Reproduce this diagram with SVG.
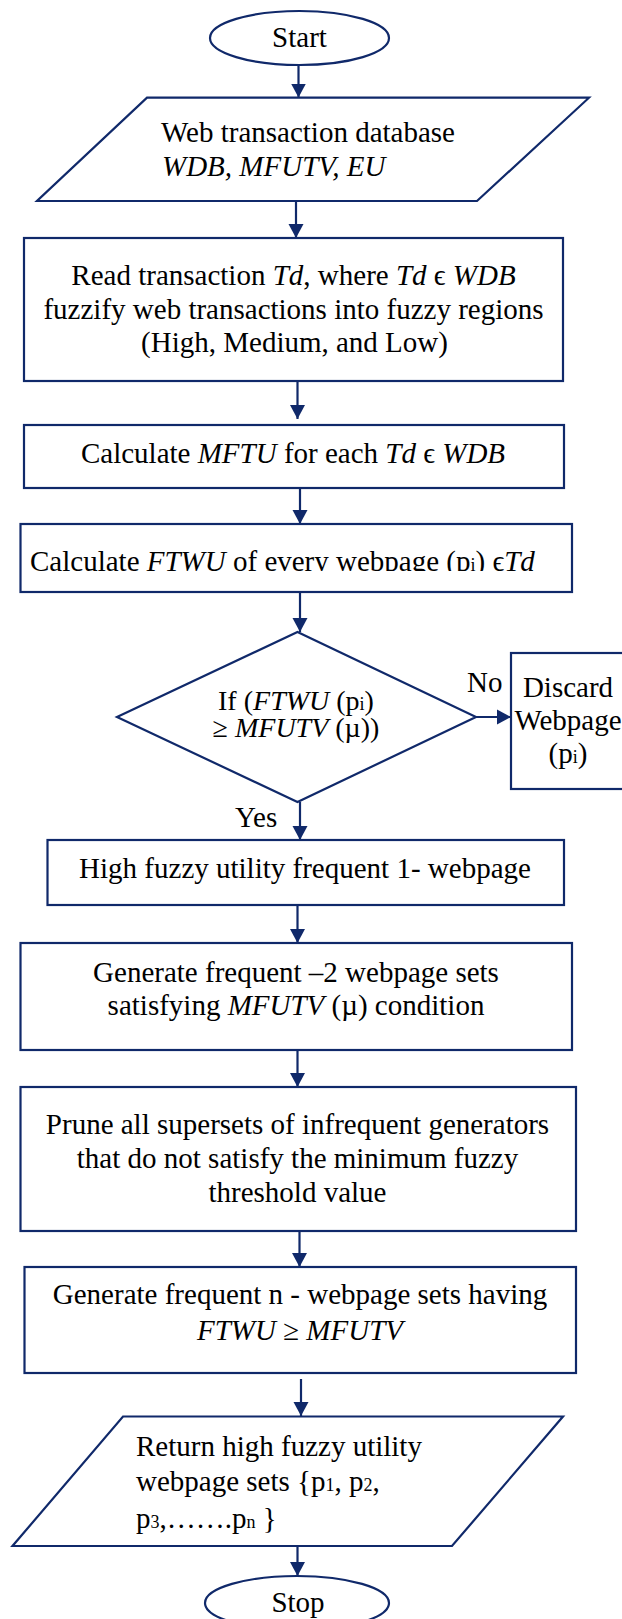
<svg xmlns="http://www.w3.org/2000/svg" width="622" height="1619" viewBox="0 0 622 1619">
<style>
.s{fill:#ffffff;stroke:#10296a;stroke-width:2.2}
.t{font-family:"Liberation Serif","Times New Roman",serif;font-size:29px;fill:#000}
.d{font-size:28px}
.m{text-anchor:middle}
.i{font-style:italic}
.sub{font-size:18px}
.c{stroke:#10296a;stroke-width:2.2;fill:none;marker-end:url(#ah)}
</style>
<defs>
<marker id="ah" markerUnits="userSpaceOnUse" markerWidth="15" markerHeight="16" refX="14" refY="8" orient="auto">
<path d="M0,0.5 L14,8 L0,15.5 z" fill="#10296a"/>
</marker>
<clipPath id="clipFtwu"><rect x="20" y="524" width="552" height="47"/></clipPath>
</defs>
<g id="connectors">
<line class="c" x1="298.5" y1="65" x2="298.5" y2="97.5"/>
<line class="c" x1="296" y1="201" x2="296" y2="238"/>
<line class="c" x1="297.5" y1="381" x2="297.5" y2="419"/>
<line class="c" x1="300" y1="488" x2="300" y2="524"/>
<line class="c" x1="300" y1="592" x2="300" y2="632"/>
<line class="c" x1="476" y1="717" x2="511" y2="717"/>
<line class="c" x1="300" y1="802" x2="300" y2="840"/>
<line class="c" x1="297.5" y1="905" x2="297.5" y2="943"/>
<line class="c" x1="297.5" y1="1050" x2="297.5" y2="1087"/>
<line class="c" x1="299.5" y1="1231" x2="299.5" y2="1267"/>
<line class="c" x1="301" y1="1379" x2="301" y2="1416"/>
<line class="c" x1="297.5" y1="1546" x2="297.5" y2="1576"/>
</g>
<g id="start">
<ellipse class="s" cx="299.5" cy="38" rx="89.5" ry="27"/>
<text class="t m" x="299.5" y="47">Start</text>
</g>
<g id="input">
<polygon class="s" points="147,97.7 589,97.7 477,201 37,201"/>
<text class="t" x="161" y="142">Web transaction database</text>
<text class="t i" x="162" y="176">WDB, MFUTV, EU</text>
</g>
<g id="read">
<rect class="s" x="24" y="238" width="539" height="143"/>
<text class="t m" x="293.5" y="285">Read transaction <tspan class="i">Td</tspan>, where <tspan class="i">Td</tspan> ϵ <tspan class="i">WDB</tspan></text>
<text class="t m" x="293.5" y="318.5">fuzzify web transactions into fuzzy regions</text>
<text class="t m" x="294.5" y="352">(High, Medium, and Low)</text>
</g>
<g id="mftu">
<rect class="s" x="24" y="425" width="540" height="63"/>
<text class="t m" x="293" y="463">Calculate <tspan class="i">MFTU</tspan> for each <tspan class="i">Td</tspan> ϵ <tspan class="i">WDB</tspan></text>
</g>
<g id="ftwu">
<rect class="s" x="20.5" y="524" width="551.5" height="68"/>
<text class="t" x="30" y="571" clip-path="url(#clipFtwu)">Calculate <tspan class="i">FTWU</tspan> of every webpage (p<tspan class="sub">i</tspan>) ϵ<tspan class="i">Td</tspan></text>
</g>
<g id="decision">
<polygon class="s" points="297.5,632 476,717 297.5,802 117,717"/>
<text class="t d m" x="296" y="710">If (<tspan class="i">FTWU</tspan> (p<tspan class="sub">i</tspan>)</text>
<text class="t d m" x="296" y="737">≥ <tspan class="i">MFUTV</tspan> (µ))</text>
</g>
<g id="discard">
<rect class="s" x="511" y="653" width="130" height="136"/>
<text class="t m" x="568" y="697">Discard</text>
<text class="t m" x="568" y="730">Webpage</text>
<text class="t m" x="568" y="763">(p<tspan class="sub">i</tspan>)</text>
</g>
<g id="labels">
<text class="t" x="467" y="692">No</text>
<text class="t" x="235" y="827">Yes</text>
</g>
<g id="high">
<rect class="s" x="47.5" y="840" width="516.5" height="65"/>
<text class="t m" x="305" y="878">High fuzzy utility frequent 1- webpage</text>
</g>
<g id="gen2">
<rect class="s" x="20.5" y="943" width="551.5" height="107"/>
<text class="t m" x="296" y="982">Generate frequent –2 webpage sets</text>
<text class="t m" x="296" y="1015">satisfying <tspan class="i">MFUTV</tspan> (µ) condition</text>
</g>
<g id="prune">
<rect class="s" x="20.5" y="1087" width="555.5" height="144"/>
<text class="t m" x="297.5" y="1134">Prune all supersets of infrequent generators</text>
<text class="t m" x="297.5" y="1168">that do not satisfy the minimum fuzzy</text>
<text class="t m" x="297.5" y="1202">threshold value</text>
</g>
<g id="genn">
<rect class="s" x="24.5" y="1267" width="551.5" height="106"/>
<text class="t m" x="300" y="1304">Generate frequent n - webpage sets having</text>
<text class="t m" x="300" y="1340"><tspan class="i">FTWU</tspan> ≥ <tspan class="i">MFUTV</tspan></text>
</g>
<g id="output">
<polygon class="s" points="123,1416.5 563,1416.5 452,1546 12.5,1546"/>
<text class="t" x="136" y="1456">Return high fuzzy utility</text>
<text class="t" x="136" y="1491">webpage sets {p<tspan class="sub">1</tspan>, p<tspan class="sub">2</tspan>,</text>
<text class="t" x="136" y="1528">p<tspan class="sub">3</tspan>,…….p<tspan class="sub">n</tspan> }</text>
</g>
<g id="stop">
<ellipse class="s" cx="297" cy="1603" rx="92" ry="27"/>
<text class="t m" x="298" y="1612">Stop</text>
</g>
</svg>
